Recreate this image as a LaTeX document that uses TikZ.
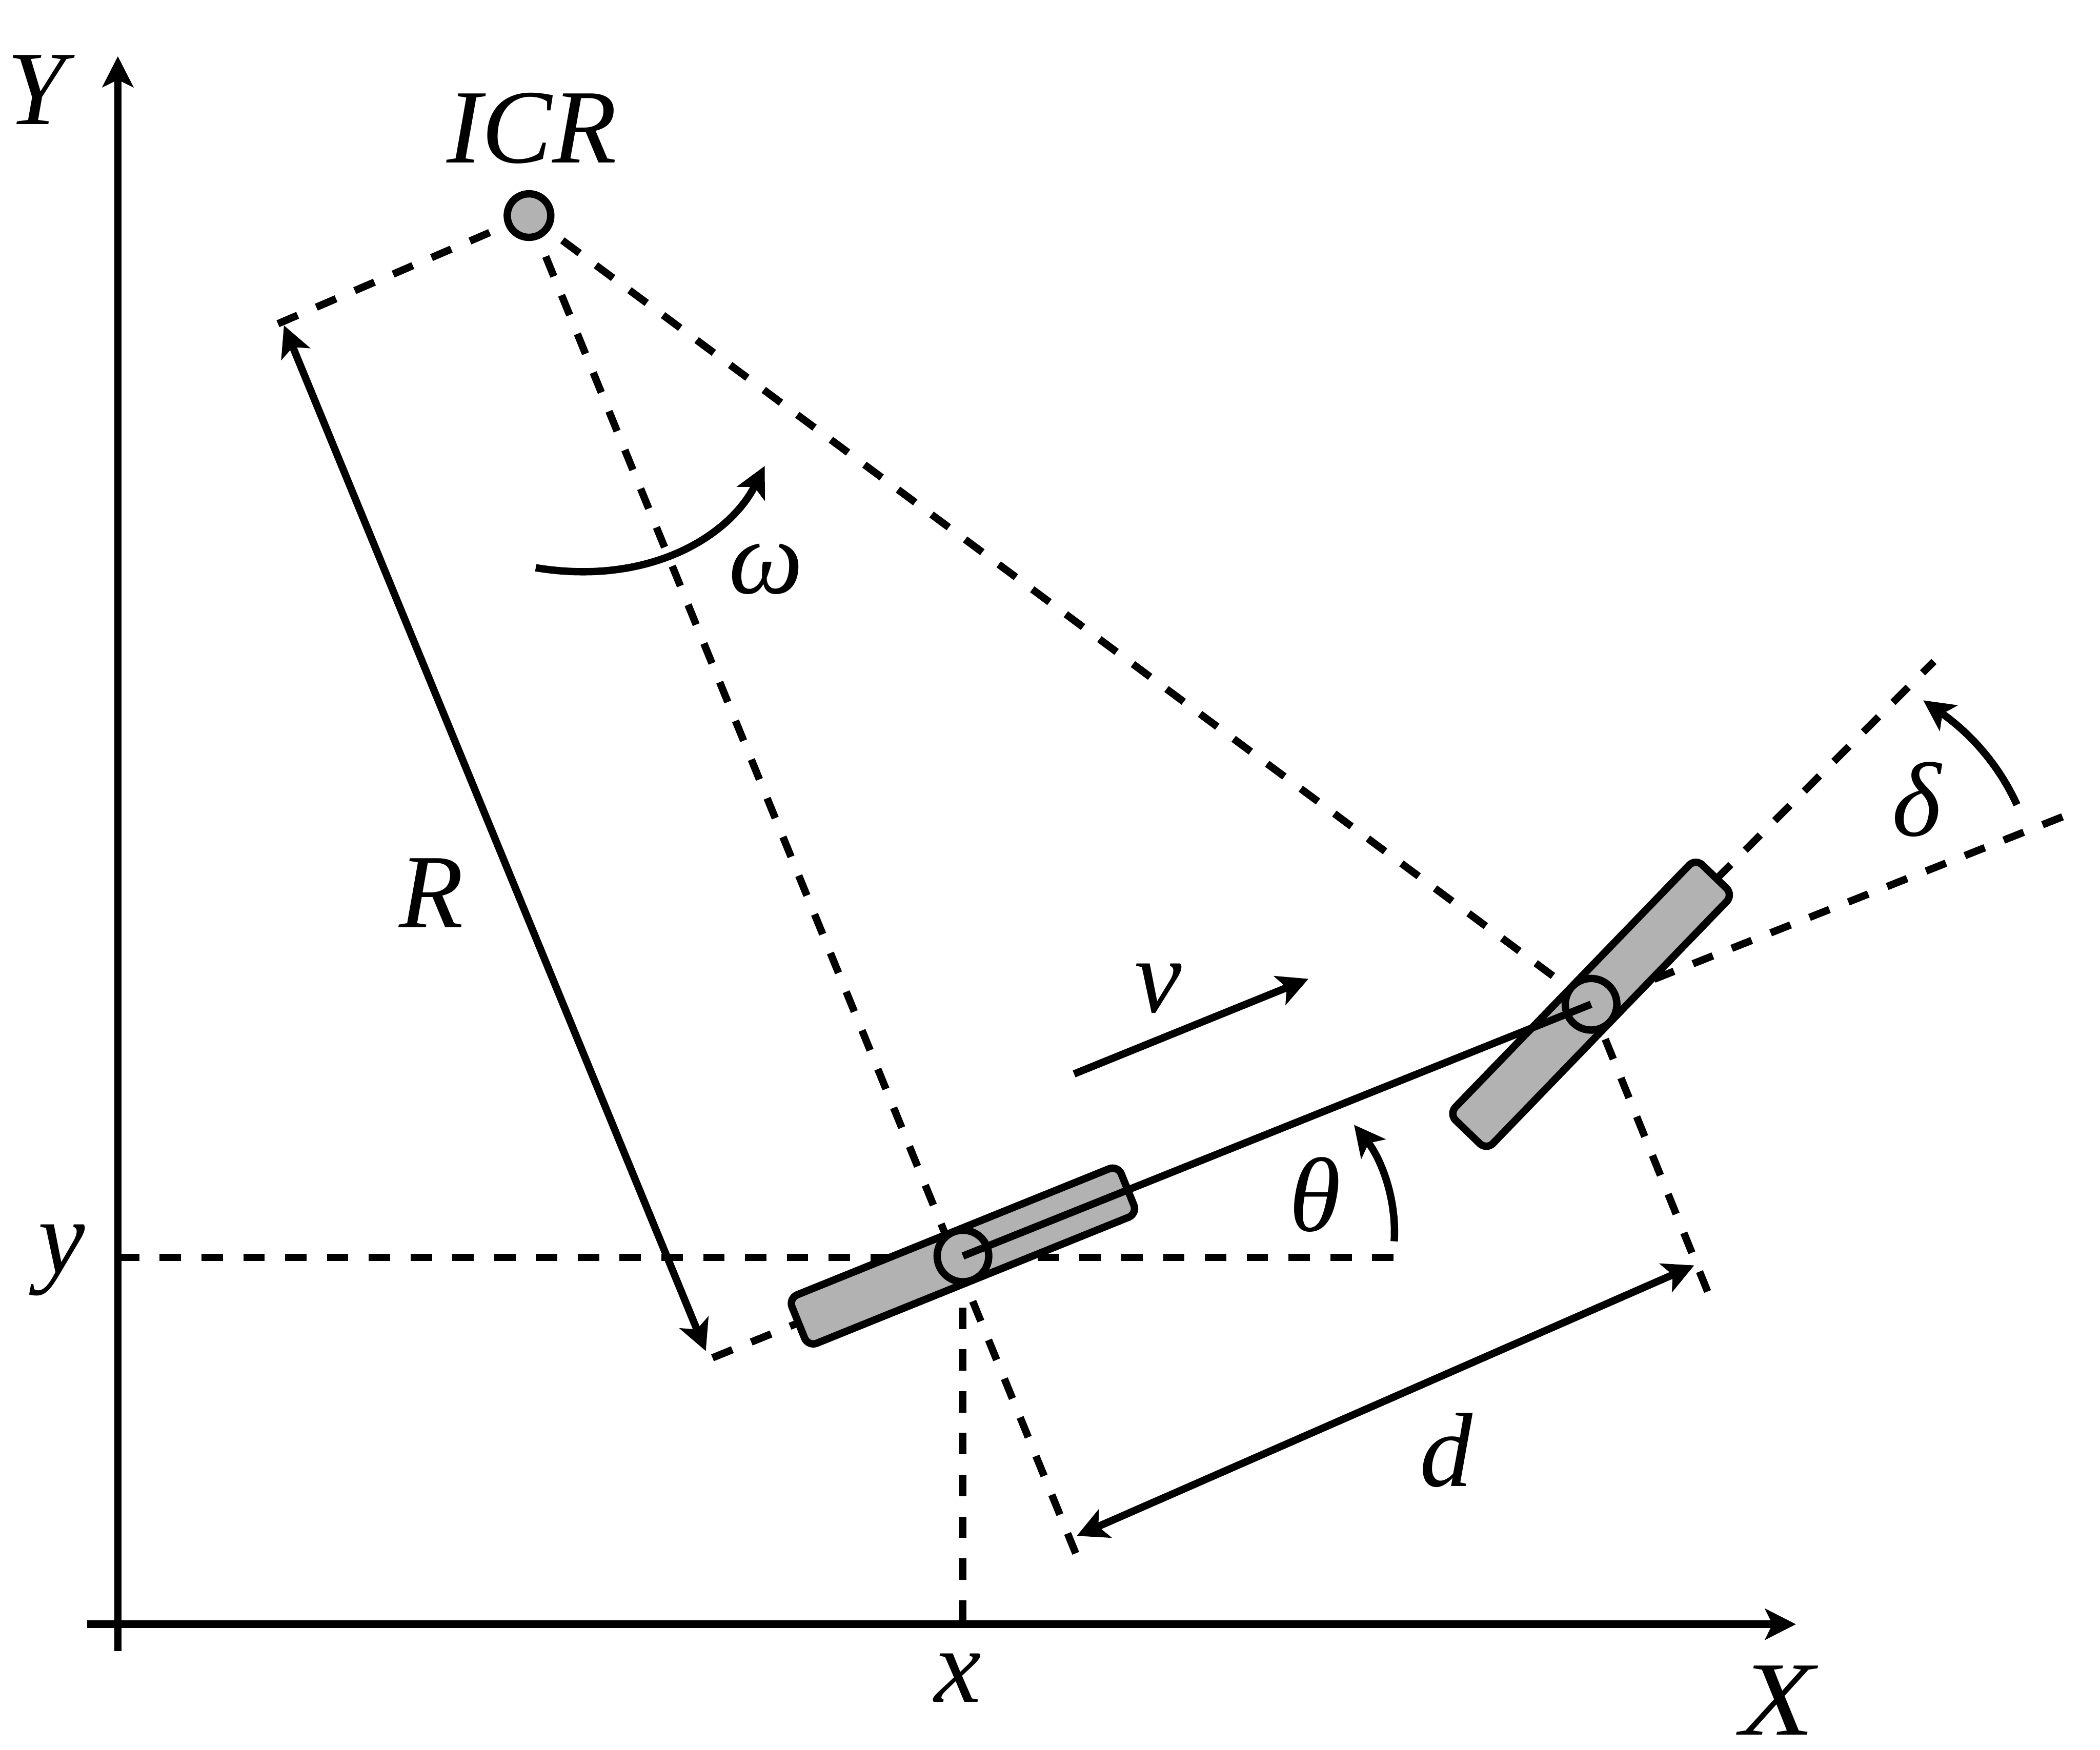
\documentclass[tikz,border=0pt]{standalone}
\usepackage{fontspec}
\setmainfont{Liberation Serif}
\usetikzlibrary{arrows.meta}
\definecolor{wheelgray}{HTML}{B2B2B2}
\tikzset{
  lw/.style={line width=0.055cm},
  solidline/.style={lw,black},
  dashline/.style={lw,black,dash pattern=on 0.16cm off 0.152cm},
  tip/.tip={Stealth[length=0.23cm,width=0.23cm,inset=0.055cm]},
  arr/.style={solidline,-{tip}},
  dblarr/.style={solidline,{tip}-{tip}},
  wheelbox/.style={draw,lw,fill=wheelgray,rounded corners=0.07cm,minimum width=2.65cm,minimum height=0.39cm,inner sep=0pt},
  hub/.style={draw,lw,circle,fill=wheelgray,minimum size=0.385cm,inner sep=0pt},
  icrdot/.style={draw,lw,circle,fill=wheelgray,minimum size=0.325cm,inner sep=0pt},
  lab/.style={inner sep=0pt,font=\fontsize{22.4pt}{24pt}\selectfont\itshape},
}
\begin{document}
\begin{tikzpicture}[x=0.01cm,y=-0.01cm]
\useasboundingbox[fill=white] (0,0) rectangle (1568,1306.67);
% named points
\coordinate (yo) at (88,1233);
\coordinate (yt) at (88,42);
\coordinate (xo) at (65,1213);
\coordinate (xt) at (1341,1213);
\coordinate (xfoot) at (719,1211);
\coordinate (yfoot) at (88,939);
\coordinate (yend) at (1043,939);
\coordinate (rc) at (719,938);
\coordinate (fc) at (1188,750);
\coordinate (ic) at (395,161);
\coordinate (pa) at (207,242);
\coordinate (pb) at (532,1014);
\coordinate (ra) at (212,243);
\coordinate (rb) at (527,1009);
\coordinate (da) at (804,1147);
\coordinate (db) at (1265,945);
\coordinate (dr) at (804,1162);
\coordinate (df) at (1275,964.5);
\coordinate (va) at (802,802);
\coordinate (vb) at (977,731);
\coordinate (wa) at (400,424);
\coordinate (wb) at (571,348);
\coordinate (ta) at (1041,927);
\coordinate (tb) at (1011,840);
\coordinate (ea) at (1506,601);
\coordinate (eb) at (1436,523);
\coordinate (fa) at (1444,494);
\coordinate (fb) at (1540,610);
% axes
\draw[arr] (yo) -- (yt);
\draw[arr] (xo) -- (xt);
% dashed construction lines
\draw[dashline] (yfoot) -- (yend);
\draw[dashline] (xfoot) -- (rc);
\draw[dashline,shorten <=0.33cm] (ic) -- (dr);
\draw[dashline,shorten <=0.32cm] (ic) -- (pa);
\draw[dashline,shorten <=0.31cm] (ic) -- (fc);
\draw[dashline] (df) -- (fc);
\draw[dashline] (pb) -- (rc);
\draw[dashline,dash phase=0.04cm] (fa) -- (fc);
\draw[dashline] (fb) -- (fc);
% wheels
\node[wheelbox,rotate=22] (rw) at (rc) {};
\node[wheelbox,rotate=46] (fw) at (fc) {};
\node[hub] (rh) at (rc) {};
\node[hub] (fh) at (fc) {};
\node[icrdot] (icr) at (ic) {};
\draw[solidline] (rh.center) -- (fh.center);
% dimension arrows
\draw[dblarr] (ra) -- (rb);
\draw[dblarr] (da) -- (db);
\draw[arr] (va) -- (vb);
\draw[arr] (wa) .. controls (485,438) and (545,400) .. (wb);
\draw[arr] (ta) .. controls (1043,895) and (1031,865) .. (tb);
\draw[arr] (ea) .. controls (1490,566) and (1466,544) .. (eb);
% labels
\node[lab] (lY) at (27,67) {Y};
\node[lab] (lICR) at (397,96) {ICR};
\node[lab] (lw) at (572,425) {ω};
\node[lab] (lR) at (322,667) {R};
\node[lab] (lv) at (865,738) {v};
\node[lab] (lt) at (982,892) {θ};
\node[lab] (ld) at (1431,597) {δ};
\node[lab] (ly) at (46,941) {y};
\node[lab] (lx) at (715,1253) {x};
\node[lab] (ldd) at (1080,1083) {d};
\node[lab,xscale=1.15,transform shape] (lX) at (1327,1270) {X};
\end{tikzpicture}
\end{document}
